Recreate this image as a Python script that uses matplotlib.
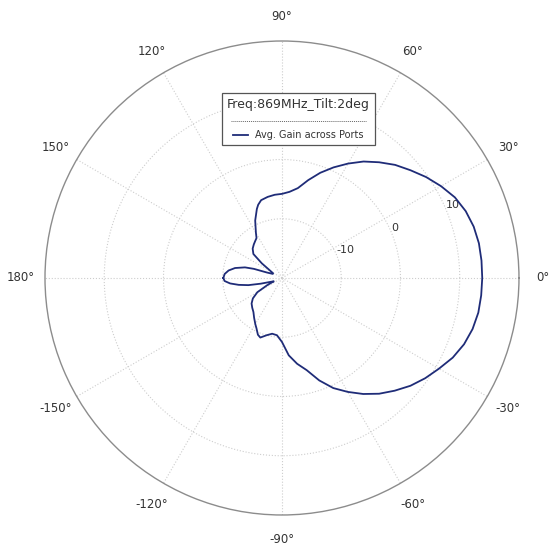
import numpy as np
import matplotlib
matplotlib.use("Agg")
import matplotlib.pyplot as plt
from matplotlib.lines import Line2D

# ---- data ----
angles_deg = [-180, -177, -174, -171, -168, -165, -162, -158, -154, -150, -145, -140,
              -135, -130, -125, -120, -117, -113, -110, -105, -100, -95, -90, -85,
              -80, -75, -70, -65, -60, -55, -50, -45, -40, -35, -30, -25, -20, -15,
              -10, -5, 0, 5, 10, 15, 20, 25, 30, 35, 40, 45, 50, 55, 60, 65, 70, 75,
              80, 85, 90, 95, 100, 105, 108, 110, 115, 120, 122.5, 126, 130, 135,
              140, 144, 148, 152, 156, 160, 162, 164, 168, 172, 176, 180]
gain_db = [-10.1, -10.3, -11.2, -12.6, -14.2, -16.3, -17.8, -18.5, -17.2, -15.2, -14.0, -13.3,
           -12.9, -12.5, -11.8, -11.0, -10.5, -9.6, -9.3, -10.0, -10.45, -10.3, -9.2, -6.9,
           -5.3, -3.9, -1.6, 0.5, 2.2, 3.9, 5.5, 6.9, 8.3, 9.5, 10.6, 11.8, 12.7, 13.3,
           13.65, 13.75, 13.8, 13.8, 13.75, 13.5, 13.0, 12.2, 11.0, 9.7, 8.3, 7.0, 5.5, 4.0,
           2.3, 0.6, -1.1, -2.9, -4.6, -5.4, -5.8, -5.9, -6.1, -6.4, -7.0, -7.6, -9.3,
           -11.2, -12.0, -12.3, -12.6, -13.0, -13.7, -15.8, -17.6, -18.3, -18.3, -17.3,
           -15.0, -13.5, -11.9, -10.9, -10.3, -10.1]

theta_ticks = [0, 30, 60, 90, 120, 150, 180, 210, 240, 270, 300, 330]
theta_labels = ["0°", "30°", "60°", "90°", "120°", "150°", "180°",
                "-150°", "-120°", "-90°", "-60°", "-30°"]
r_ticks = [-10, 0, 10]
r_labels = ["-10", "0", "10"]
r_limits = (-20, 20)

legend_title = "Freq:869MHz_Tilt:2deg"
series_label = "Avg. Gain across Ports"

# ---- figure ----
fig = plt.figure(figsize=(5.5, 5.46), dpi=100)
ax = fig.add_axes([0.0818, 0.0568, 0.8618, 0.8681], projection="polar")

line_color = "#1f2c78"
ax.plot(np.deg2rad(angles_deg), gain_db, color=line_color, lw=1.3, label=series_label)

ax.set_ylim(*r_limits)
ax.set_thetagrids(theta_ticks, theta_labels, fontsize=8.5, color="#333333")
ax.set_rgrids(r_ticks, r_labels, fontsize=8, color="#333333")
ax.set_rlabel_position(22.5)
ax.tick_params(axis="x", pad=7)
ax.grid(True, color="#cdcdcd", linestyle=":", linewidth=0.8)
ax.spines["polar"].set_color("#8c8c8c")
ax.spines["polar"].set_linewidth(1.0)

leg = fig.legend(loc="center", bbox_to_anchor=(0.5427, 0.782),
                 bbox_transform=fig.transFigure, title=legend_title,
                 fontsize=7, title_fontsize=9, fancybox=False, framealpha=1,
                 edgecolor="#555555", handlelength=1.5, labelspacing=2.0,
                 borderpad=0.5)
leg.get_frame().set_linewidth(0.9)
leg.get_title().set_color("#333333")
for t in leg.get_texts():
    t.set_color("#333333")

# dotted separator under the legend title
fig.canvas.draw()
lb = leg.get_window_extent()
tb = leg.get_title().get_window_extent()
ent = leg.get_texts()[0].get_window_extent()
ysep = (tb.y0 + ent.y1) / 2
sep = Line2D([lb.x0 + 9, lb.x1 - 9], [ysep, ysep], transform=None,
             color="#666666", lw=0.7, linestyle=(0, (1, 1)), zorder=10)
fig.add_artist(sep)

fig.savefig("out.png", dpi=100)
